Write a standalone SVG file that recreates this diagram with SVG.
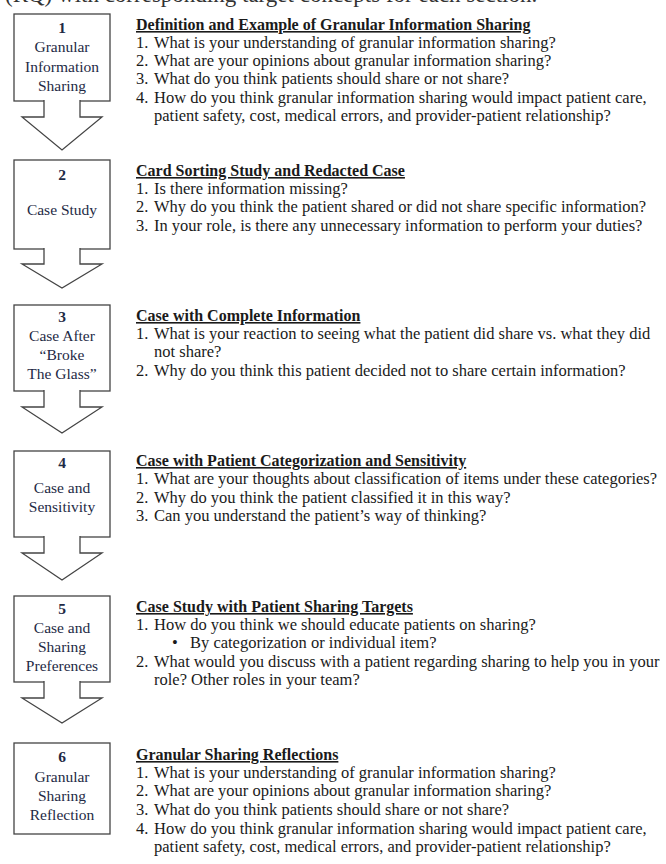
<svg xmlns="http://www.w3.org/2000/svg" width="666" height="864" viewBox="0 0 666 864">
<style>
text{font-family:"Liberation Serif","Times New Roman",serif;font-size:16.5px;fill:#1a1a1a}
.lab{text-anchor:middle;fill:#1e2a45;font-size:15.5px}
.num{font-weight:bold}
.hd{font-weight:bold;text-decoration:underline;font-size:16px}
.box{fill:#fff;stroke:#444;stroke-width:1.3}
.arr{fill:#fff;stroke:#444;stroke-width:1.3;stroke-linejoin:miter}
.top{font-size:23px;fill:#333}
</style>
<rect width="666" height="864" fill="#fff"/>
<text class="top" x="5" y="2">(RQ) with corresponding target concepts for each section.</text>

<g id="node1">
<rect class="box" x="14" y="14" width="96" height="87"/>
<text class="lab num" x="62" y="33">1</text>
<text class="lab" x="62" y="52">Granular</text>
<text class="lab" x="62" y="72">Information</text>
<text class="lab" x="62" y="91">Sharing</text>
<text class="hd" x="136" y="30">Definition and Example of Granular Information Sharing</text>
<text x="136" y="48">1.</text><text x="154" y="48">What is your understanding of granular information sharing?</text>
<text x="136" y="66">2.</text><text x="154" y="66">What are your opinions about granular information sharing?</text>
<text x="136" y="84">3.</text><text x="154" y="84">What do you think patients should share or not share?</text>
<text x="136" y="103">4.</text><text x="154" y="103">How do you think granular information sharing would impact patient care,</text>
<text x="154" y="121">patient safety, cost, medical errors, and provider-patient relationship?</text>
</g>

<g id="node2">
<rect class="box" x="14" y="160" width="96" height="89"/>
<text class="lab num" x="62" y="180">2</text>
<text class="lab" x="62" y="215">Case Study</text>
<text class="hd" x="136" y="176">Card Sorting Study and Redacted Case</text>
<text x="136" y="194">1.</text><text x="154" y="194">Is there information missing?</text>
<text x="136" y="212">2.</text><text x="154" y="212">Why do you think the patient shared or did not share specific information?</text>
<text x="136" y="231">3.</text><text x="154" y="231">In your role, is there any unnecessary information to perform your duties?</text>
</g>

<g id="node3">
<rect class="box" x="14" y="305" width="96" height="86"/>
<text class="lab num" x="62" y="322">3</text>
<text class="lab" x="62" y="341">Case After</text>
<text class="lab" x="62" y="360">“Broke</text>
<text class="lab" x="62" y="379">The Glass”</text>
<text class="hd" x="136" y="321">Case with Complete Information</text>
<text x="136" y="339">1.</text><text x="154" y="339">What is your reaction to seeing what the patient did share vs. what they did</text>
<text x="154" y="357">not share?</text>
<text x="136" y="376">2.</text><text x="154" y="376">Why do you think this patient decided not to share certain information?</text>
</g>

<g id="node4">
<rect class="box" x="14" y="451" width="96" height="86"/>
<text class="lab num" x="62" y="468">4</text>
<text class="lab" x="62" y="493">Case and</text>
<text class="lab" x="62" y="512">Sensitivity</text>
<text class="hd" x="136" y="466">Case with Patient Categorization and Sensitivity</text>
<text x="136" y="484">1.</text><text x="154" y="484">What are your thoughts about classification of items under these categories?</text>
<text x="136" y="503">2.</text><text x="154" y="503">Why do you think the patient classified it in this way?</text>
<text x="136" y="521">3.</text><text x="154" y="521">Can you understand the patient’s way of thinking?</text>
</g>

<g id="node5">
<rect class="box" x="14" y="596" width="96" height="86"/>
<text class="lab num" x="62" y="614">5</text>
<text class="lab" x="62" y="633">Case and</text>
<text class="lab" x="62" y="652">Sharing</text>
<text class="lab" x="62" y="671">Preferences</text>
<text class="hd" x="136" y="612">Case Study with Patient Sharing Targets</text>
<text x="136" y="630">1.</text><text x="154" y="630">How do you think we should educate patients on sharing?</text>
<text x="172" y="648">•</text><text x="190" y="648">By categorization or individual item?</text>
<text x="136" y="667">2.</text><text x="154" y="667">What would you discuss with a patient regarding sharing to help you in your</text>
<text x="154" y="685">role? Other roles in your team?</text>
</g>

<g id="node6">
<rect class="box" x="14" y="743" width="96" height="91"/>
<text class="lab num" x="62" y="762">6</text>
<text class="lab" x="62" y="782">Granular</text>
<text class="lab" x="62" y="801">Sharing</text>
<text class="lab" x="62" y="820">Reflection</text>
<text class="hd" x="136" y="760">Granular Sharing Reflections</text>
<text x="136" y="778">1.</text><text x="154" y="778">What is your understanding of granular information sharing?</text>
<text x="136" y="796">2.</text><text x="154" y="796">What are your opinions about granular information sharing?</text>
<text x="136" y="815">3.</text><text x="154" y="815">What do you think patients should share or not share?</text>
<text x="136" y="834">4.</text><text x="154" y="834">How do you think granular information sharing would impact patient care,</text>
<text x="154" y="852">patient safety, cost, medical errors, and provider-patient relationship?</text>
</g>

<g id="connectors">
<path class="arr" d="M44,100 V117 H22 L62,150 L102,117 H80 V100"/>
<path class="arr" d="M44,248 V264 H22 L62,288 L102,264 H80 V248"/>
<path class="arr" d="M44,390 V407 H22 L62,433 L102,407 H80 V390"/>
<path class="arr" d="M44,536 V553 H22 L62,580 L102,553 H80 V536"/>
<path class="arr" d="M44,681 V698 H22 L62,723 L102,698 H80 V681"/>
</g>
</svg>
